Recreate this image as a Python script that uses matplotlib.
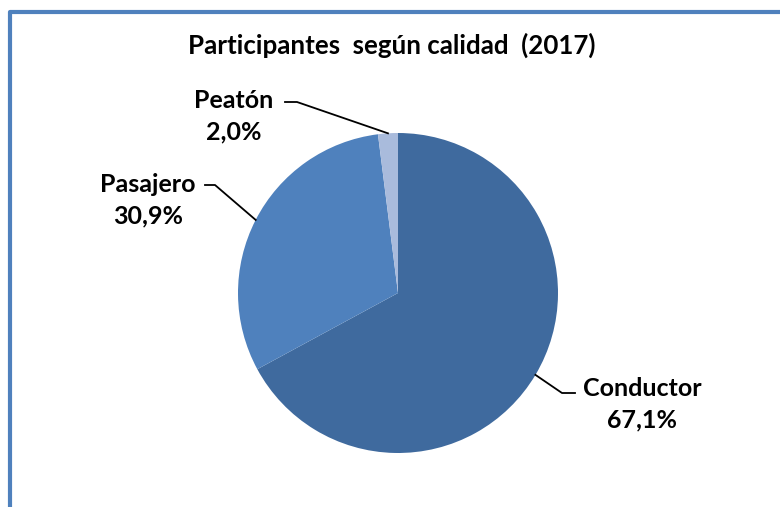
import matplotlib
matplotlib.use("Agg")
import matplotlib.pyplot as plt
import numpy as np

plt.rcParams['font.family'] = ['Lato', 'DejaVu Sans']

labels = ["Conductor", "Pasajero", "Peatón"]
values = [67.1, 30.9, 2.0]
colors = ["#3F6A9E", "#4F81BD", "#A9BBDC"]
title = "Participantes  según calidad  (2017)"

W, H = 780, 507
fig = plt.figure(figsize=(W / 100, H / 100), dpi=100)
ax = fig.add_axes([0, 0, 1, 1])

# frame (only left and top visible in the crop)
ax.plot([9.5, 9.5, W + 5], [-5, H - 11.5, H - 11.5], color="#4F81BD", lw=3, solid_capstyle='butt')

cx, cy, r = 398, H - 293, 160
wedges, _ = ax.pie(values, colors=colors, startangle=90, counterclock=False,
                   center=(cx, cy), radius=r, frame=True)
ax.set_xlim(0, W)
ax.set_ylim(0, H)
ax.set_aspect('equal')
ax.axis('off')

ax.text(W / 2 + 2, H - 45, title, ha='center', va='center',
        fontsize=18.6, fontweight='bold')

# text centre, elbow and end of each leader line
label_pos = {
    "Conductor": ((642, H - 404), (562, H - 393), (575, H - 393)),
    "Pasajero": ((148, H - 200), (215, H - 185), (205, H - 185)),
    "Peatón": ((234, H - 116), (297, H - 102), (285, H - 102)),
}
for w, lab, v in zip(wedges, labels, values):
    ang = np.deg2rad((w.theta1 + w.theta2) / 2)
    ax_pt = (cx + r * np.cos(ang), cy + r * np.sin(ang))
    (tx, ty), elbow, end = label_pos[lab]
    ax.plot([ax_pt[0], elbow[0], end[0]], [ax_pt[1], elbow[1], end[1]],
            color='black', lw=1.3)
    ax.text(tx, ty, f"{lab}\n{v:.1f}%".replace('.', ','), ha='center', va='center',
            fontsize=18, fontweight='bold', linespacing=1.45)

fig.savefig("out.png", dpi=100)
